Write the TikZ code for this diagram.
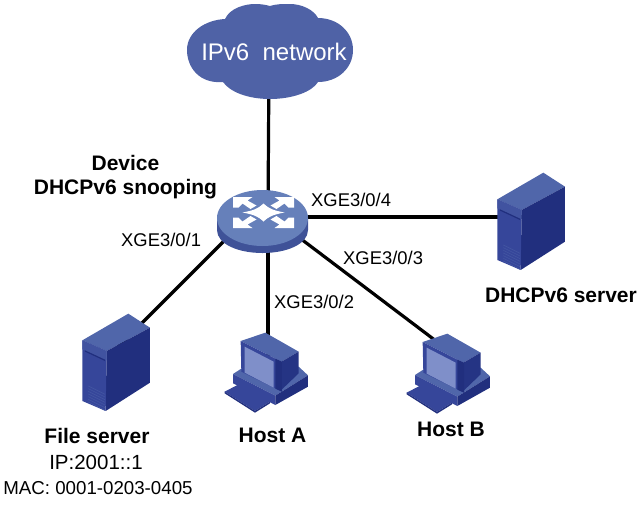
\documentclass[tikz,border=0pt]{standalone}
\usepackage{fontspec}
\setmainfont{Liberation Sans}
\usetikzlibrary{positioning}
\definecolor{cloudblue}{HTML}{4F62A6}
\definecolor{facedark}{HTML}{212F7E}
\definecolor{facemid}{HTML}{36469A}
\definecolor{facelight}{HTML}{5066AA}
\definecolor{screenblue}{HTML}{7F8FC9}
\definecolor{switchtop}{HTML}{6680BA}
\definecolor{switchside}{HTML}{3F5298}
% server icon, corner of the crop at #1
\newcommand{\servericon}[1]{
  \begin{scope}[shift={#1},x=0.3333pt,y=-0.3333pt]
    \fill[facelight] (52,118) -- (190,38) -- (255,80) -- (125,150) -- cycle;
    \fill[facedark] (125,150) -- (255,80) -- (255,245) -- (122,330) -- cycle;
    \fill[facemid] (52,118) -- (125,150) -- (122,330) -- (52,300) -- cycle;
    \fill[facemid!60!facelight] (52,118) -- (125,150) -- (125,178) -- (52,145) -- cycle;
    \fill[facedark] (60,148) -- (120,176) -- (120,180) -- (60,152) -- cycle;
    \foreach \y in {0,8,...,48}
      \draw[facemid!50!facelight,line width=0.6pt] (70,255+\y) -- (120,280+\y);
  \end{scope}
}
% host icon, corner of the crop at #1
\newcommand{\hosticon}[1]{
  \begin{scope}[shift={#1},x=0.3333pt,y=-0.3333pt]
    \fill[facemid] (14,185) -- (62,160) -- (150,215) -- (105,243) -- cycle;
    \fill[facedark] (14,185) -- (105,243) -- (150,215) -- (150,220) -- (105,248) -- (14,190) -- cycle;
    \fill[facelight] (39,132) -- (70,112) -- (236,110) -- (264,136) -- (166,197) -- cycle;
    \fill[facemid] (39,132) -- (166,197) -- (166,225) -- (39,160) -- cycle;
    \fill[facedark] (166,197) -- (264,136) -- (264,170) -- (166,225) -- cycle;
    \fill[facelight] (62,33) -- (136,8) -- (236,65) -- (184,95) -- cycle;
    \fill[facedark!80!facemid] (184,95) -- (236,65) -- (236,130) -- (184,180) -- cycle;
    \fill[facemid] (62,33) -- (184,95) -- (186,185) -- (64,125) -- cycle;
    \fill[screenblue] (74,50) -- (161,95) -- (161,173) -- (74,128) -- cycle;
    \fill[facedark] (166,86) -- (186,95) -- (186,185) -- (166,176) -- cycle;
  \end{scope}
}
% one corner arrow of the switch mark
\newcommand{\switcharrow}{
  \fill[white] (-30.5,-15.5) -- (-11,-15.5) -- (-16,-12) -- (-7,-7) -- (-13,-3.5)
    -- (-21,-9) -- (-25,-5) -- (-30.5,-5) -- cycle;
}
\begin{document}
\begin{tikzpicture}[x=1pt,y=-1pt,
  link/.style={line width=3.2pt,black},
  device node/.style={inner sep=0pt,minimum size=4pt},
  port label/.style={font=\fontsize{18.4}{20}\selectfont,inner sep=0pt},
  name label/.style={font=\fontsize{21}{24}\selectfont\bfseries,inner sep=0pt}]
  \useasboundingbox (0,0) rectangle (642,504);
  \node[device node] (cloud) at (269,60) {};
  \node[device node] (device) at (268,214) {};
  \coordinate (device east) at (268,217);
  \coordinate (device west) at (262,203);
  \node[device node] (fileserver) at (115,350) {};
  \node[device node] (hostA) at (268,370) {};
  \node[device node] (hostB) at (440,344) {};
  \node[device node] (dhcpserver) at (530,217) {};

  \path[link]
    (cloud) edge (device)
    (device east) edge (dhcpserver)
    (device) edge (hostA)
    (device) edge (hostB)
    (device west) edge (fileserver);

  % cloud
  \fill[cloudblue] (223,82) .. controls (200,84) and (187,68) .. (187,50)
    .. controls (187,32) and (205,20) .. (225,19)
    .. controls (230,8) and (245,4) .. (255,4)
    .. controls (262,4) and (266,5) .. (270,6)
    .. controls (276,4) and (282,4) .. (290,4)
    .. controls (302,4) and (314,10) .. (318,18)
    .. controls (338,18) and (353,32) .. (353,50)
    .. controls (353,68) and (338,82) .. (318,82)
    .. controls (312,92) and (292,99) .. (270,99)
    .. controls (248,99) and (230,92) .. (223,82) -- cycle;
  \node[font=\fontsize{24}{26}\selectfont,text=white,inner sep=0pt] (cloudlabel) at (274,52) {IPv6\ \ network};

  % switch
  \fill[switchside] (217,218) -- (217,230) .. controls (217,244) and (238,253) .. (262.5,253)
    .. controls (287,253) and (308,244) .. (308,230) -- (308,218) -- cycle;
  \fill[switchtop] (262.5,218) ellipse [x radius=45.5,y radius=28];
  \begin{scope}[shift={(263.5,212.5)}]
    \switcharrow
    \begin{scope}[xscale=-1]\switcharrow\end{scope}
    \begin{scope}[yscale=-1]\switcharrow\end{scope}
    \begin{scope}[xscale=-1,yscale=-1]\switcharrow\end{scope}
    \fill[white] (-21,0) .. controls (-10,-2) and (-5,-4) .. (0,-9)
      .. controls (5,-4) and (10,-2) .. (21,0)
      .. controls (10,2) and (5,4) .. (0,9)
      .. controls (-5,4) and (-10,2) .. (-21,0) -- cycle;
  \end{scope}

  \servericon{(480,160)}
  \servericon{(65,301)}
  \hosticon{(220,330)}
  \hosticon{(402,331)}

  \node[name label,anchor=base] (devicename) at (125.5,170) {Device};
  \node[name label,anchor=base] (devicerole) at (125.5,194) {DHCPv6 snooping};
  \node[port label,anchor=base west] (port1) at (121,246) {XGE3/0/1};
  \node[port label,anchor=base west] (port2) at (274,308) {XGE3/0/2};
  \node[port label,anchor=base west] (port3) at (343,264) {XGE3/0/3};
  \node[port label,anchor=base west] (port4) at (311,206) {XGE3/0/4};
  \node[name label,anchor=base] (dhcpname) at (561,302) {DHCPv6 server};
  \node[name label,anchor=base] (filename) at (97,443) {File server};
  \node[font=\fontsize{20.5}{24}\selectfont,inner sep=0pt,anchor=base] (fileip) at (96,469) {IP:2001::1};
  \node[font=\fontsize{18.7}{24}\selectfont,inner sep=0pt,anchor=base] (filemac) at (98,494) {MAC: 0001-0203-0405};
  \node[name label,anchor=base] (hostAname) at (272.5,442) {Host A};
  \node[name label,anchor=base] (hostBname) at (451,436) {Host B};
\end{tikzpicture}
\end{document}
